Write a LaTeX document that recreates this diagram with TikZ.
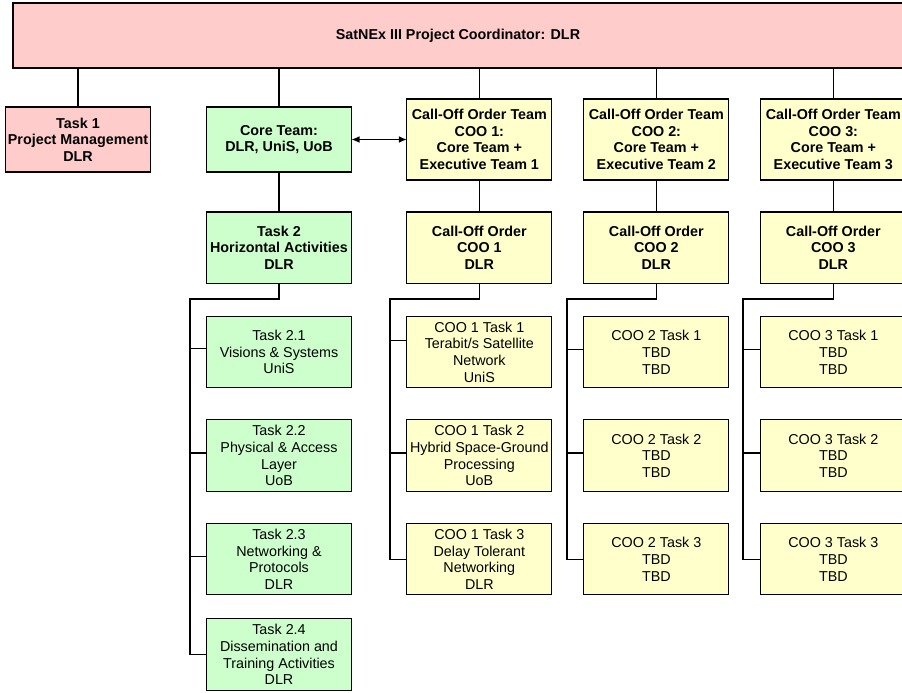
\documentclass[tikz,border=0pt]{standalone}
\usepackage{fontspec}
\setmainfont{Liberation Sans}
\usepackage{xcolor}
\usepackage{tikz}
\usetikzlibrary{positioning, arrows.meta}
\definecolor{pinkfill}{RGB}{255,204,204}
\definecolor{greenfill}{RGB}{204,255,204}
\definecolor{yellowfill}{RGB}{255,255,204}
\tikzstyle{box}       = [rectangle, draw=black, line width=0.8pt, outer sep=0pt, align=center, text centered, inner sep=1pt, minimum width=108.75pt, minimum height=53.6pt, font=\fontsize{10.75}{12.5}\selectfont]
\tikzstyle{boldbox}   = [box, font=\fontsize{10.75}{12.5}\selectfont\bfseries]
\tikzstyle{redbox}    = [boldbox, fill=pinkfill, minimum height=48.75pt]
\tikzstyle{coretask}  = [boldbox, fill=greenfill]
\tikzstyle{cootask}   = [boldbox, fill=yellowfill]
\tikzstyle{teambox}   = [boldbox, fill=yellowfill, minimum height=60.75pt]
\tikzstyle{greensub}  = [box, fill=greenfill]
\tikzstyle{yellowsub} = [box, fill=yellowfill]
\tikzstyle{link}      = [line width=0.8pt]
\tikzstyle{dblarrow}  = [line width=0.8pt, {Latex[length=6pt,width=5pt]}-{Latex[length=6pt,width=5pt]}]

\begin{document}
\begin{tikzpicture}[x=0.75pt, y=-0.75pt, node distance=24pt]
    \useasboundingbox (0,0) rectangle (902,692);

    % coordinator bar, runs off the right edge
    \node (lead) [redbox, minimum width=667.5pt] at (458,35.5) {SatNEx III Project Coordinator: DLR};

    % first row
    \node (task1) [redbox] at (78,139.5) {Task 1\\Project Management\\DLR};
    \node (core)  [coretask, minimum height=48.75pt, right=42pt of task1] {Core Team:\\DLR, UniS, UoB};
    \node (team1) [teambox, right=41.5pt of core] {Call-Off Order Team\\COO 1:\\Core Team +\\Executive Team 1};
    \node (team2) [teambox, right=of team1] {Call-Off Order Team\\COO 2:\\Core Team +\\Executive Team 2};
    \node (team3) [teambox, right=of team2] {Call-Off Order Team\\COO 3:\\Core Team +\\Executive Team 3};

    % second row
    \node (task2) [coretask, below=30pt of core] {Task 2\\Horizontal Activities\\DLR};
    \node (coo1)  [cootask, below=of team1] {Call-Off Order\\COO 1\\DLR};
    \node (coo2)  [cootask, below=of team2] {Call-Off Order\\COO 2\\DLR};
    \node (coo3)  [cootask, below=of team3] {Call-Off Order\\COO 3\\DLR};

    % horizontal activities
    \node (t21) [greensub, below=24.75pt of task2] {Task 2.1\\Visions \& Systems\\UniS};
    \node (t22) [greensub, below=of t21] {Task 2.2\\Physical \& Access\\Layer\\UoB};
    \node (t23) [greensub, below=of t22] {Task 2.3\\Networking \&\\Protocols\\DLR};
    \node (t24) [greensub, below=18pt of t23] {Task 2.4\\Dissemination and\\Training Activities\\DLR};

    % call-off order tasks
    \node (c1t1) [yellowsub, below=24.75pt of coo1] {COO 1 Task 1\\Terabit/s Satellite\\Network\\UniS};
    \node (c1t2) [yellowsub, below=of c1t1] {COO 1 Task 2\\Hybrid Space-Ground\\Processing\\UoB};
    \node (c1t3) [yellowsub, below=of c1t2] {COO 1 Task 3\\Delay Tolerant\\Networking\\DLR};
    \node (c2t1) [yellowsub, below=24.75pt of coo2] {COO 2 Task 1\\TBD\\TBD};
    \node (c2t2) [yellowsub, below=of c2t1] {COO 2 Task 2\\TBD\\TBD};
    \node (c2t3) [yellowsub, below=of c2t2] {COO 2 Task 3\\TBD\\TBD};
    \node (c3t1) [yellowsub, below=24.75pt of coo3] {COO 3 Task 1\\TBD\\TBD};
    \node (c3t2) [yellowsub, below=of c3t1] {COO 3 Task 2\\TBD\\TBD};
    \node (c3t3) [yellowsub, below=of c3t2] {COO 3 Task 3\\TBD\\TBD};

    % from the coordinator down
    \draw [link] (lead.south -| task1.north) -- (task1.north);
    \draw [link] (lead.south -| core.north)  -- (core.north);
    \draw [link] (lead.south -| team1.north) -- (team1.north);
    \draw [link] (lead.south -| team2.north) -- (team2.north);
    \draw [link] (lead.south -| team3.north) -- (team3.north);
    \draw [dblarrow] (core) -- (team1);

    \draw [link] (core)  -- (task2);
    \draw [link] (team1) -- (coo1);
    \draw [link] (team2) -- (coo2);
    \draw [link] (team3) -- (coo3);

    % trunks
    \coordinate (k2) at (190,299);
    \coordinate (k1) at (390,299);
    \coordinate (kb) at (567,299);
    \coordinate (kc) at (743,299);

    \draw [link] (task2.south) |- (k2) |- (t24.west);
    \draw [link] ([yshift=3pt]t21.west -| k2) -- ([yshift=3pt]t21.west);
    \draw [link] ([yshift=2pt]t22.west -| k2) -- ([yshift=2pt]t22.west);
    \draw [link] ([yshift=2pt]t23.west -| k2) -- ([yshift=2pt]t23.west);

    \draw [link] (coo1.south) |- (k1) |- (c1t3.west);
    \draw [link] ([yshift=8.5pt]c1t1.west -| k1) -- ([yshift=8.5pt]c1t1.west);
    \draw [link] ([yshift=2pt]c1t2.west -| k1) -- ([yshift=2pt]c1t2.west);

    \draw [link] (coo2.south) |- (kb) |- (c2t3.west);
    \draw [link] ([yshift=2pt]c2t1.west -| kb) -- ([yshift=2pt]c2t1.west);
    \draw [link] ([yshift=2pt]c2t2.west -| kb) -- ([yshift=2pt]c2t2.west);

    \draw [link] (coo3.south) |- (kc) |- (c3t3.west);
    \draw [link] ([yshift=2pt]c3t1.west -| kc) -- ([yshift=2pt]c3t1.west);
    \draw [link] ([yshift=2pt]c3t2.west -| kc) -- ([yshift=2pt]c3t2.west);

\end{tikzpicture}
\end{document}
